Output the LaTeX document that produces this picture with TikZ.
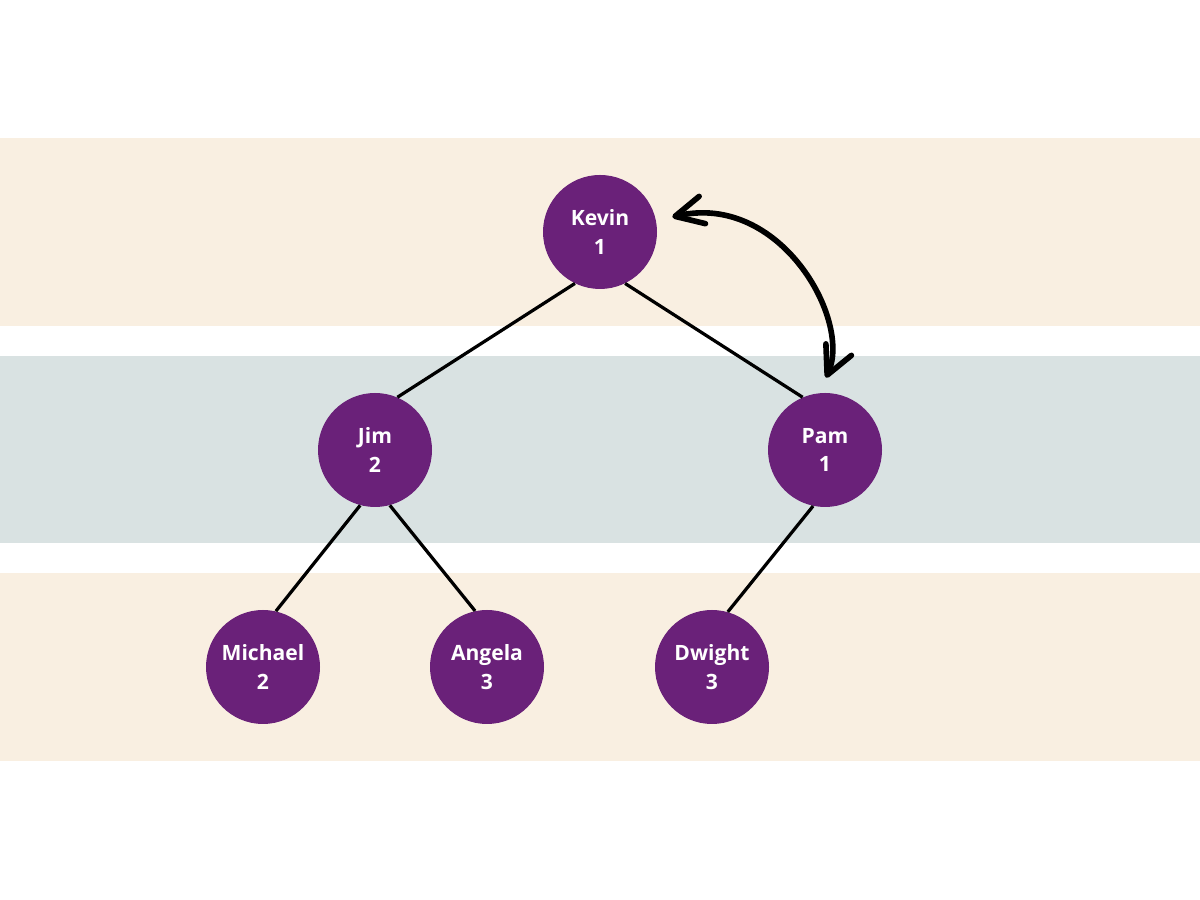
\documentclass[tikz,border=0pt]{standalone}
\usepackage{fontspec}
\setmainfont{Open Sans}
\usetikzlibrary{arrows.meta}
\definecolor{bandsand}{HTML}{F9EFE1}
\definecolor{bandsage}{HTML}{D9E2E2}
\definecolor{nodeplum}{HTML}{6A2179}

\begin{document}
\begin{tikzpicture}[
        person/.style={circle, fill=nodeplum, text=white, minimum size=2.85cm,
            inner sep=0pt, align=center, font=\fontsize{15}{20.5}\selectfont\bfseries},
        link/.style={line width=2.3pt, black},
        barb/.tip={Straight Barb[length=0.7cm, width=0.7cm, round]}
    ]
                \useasboundingbox (0,0) rectangle (30,22.5);

                % Bands
                \fill[bandsand] (0,14.35) rectangle (30,19.05);
                \fill[bandsage] (0,8.925) rectangle (30,13.6);
                \fill[bandsand] (0,3.475) rectangle (30,8.175);

                % Level 1
                \node[person] (kevin) at (15,16.7) {Kevin\\1};

                % Level 2
                \node[person] (jim) at (9.375,11.25) {Jim\\2};
                \node[person] (pam) at (20.625,11.25) {Pam\\1};

                % Level 3
                \node[person] (michael) at (6.575,5.825) {Michael\\2};
                \node[person] (angela) at (12.175,5.825) {Angela\\3};
                \node[person] (dwight) at (17.8,5.825) {Dwight\\3};

                % Edges
                \draw[link] (kevin.244) -- (jim.67);
                \draw[link] (kevin.296) -- (pam.113);
                \draw[link] (jim.255) -- (michael.77);
                \draw[link] (jim.285) -- (angela.102);
                \draw[link] (pam.258) -- (dwight.74);

                % Swap
                \draw[line width=4pt, line cap=round, barb-barb]
                    ([shift={(0.375,0.375)}]kevin.east)
                    .. controls (19.5,17.7) and (21.3,14.5) ..
                    ([shift={(0.025,0.375)}]pam.north);
            \end{tikzpicture}
\end{document}
